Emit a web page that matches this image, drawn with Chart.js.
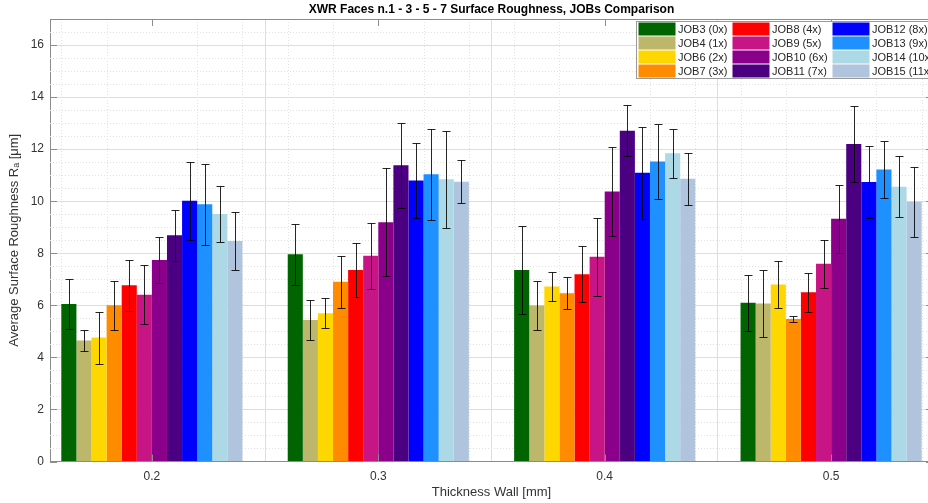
<!DOCTYPE html>
<html>
<head>
<meta charset="utf-8">
<title>XWR Faces Surface Roughness</title>
<script src="https://cdn.jsdelivr.net/npm/chart.js@4.4.0/dist/chart.umd.min.js"></script>
<style>
    html, body { margin: 0; padding: 0; background: #fff; overflow: hidden; }
    #wrap { width: 940px; height: 503px; }
</style>
</head>
<body>
<div id="wrap"><canvas id="roughChart" width="940" height="503"></canvas></div>
<script>
// Wall thickness groups [mm]
const thickness = [0.2, 0.3, 0.4, 0.5];
const yTicks = [0, 2, 4, 6, 8, 10, 12, 14, 16];

const jobLabels = [
    'JOB3 (0x)', 'JOB4 (1x)', 'JOB6 (2x)', 'JOB7 (3x)',
    'JOB8 (4x)', 'JOB9 (5x)', 'JOB10 (6x)', 'JOB11 (7x)',
    'JOB12 (8x)', 'JOB13 (9x)', 'JOB14 (10x)', 'JOB15 (11x)'
];
const jobColors = [
    '#006400', '#bdb76b', '#ffd700', '#ff8c00',
    '#ff0000', '#c71585', '#8b008b', '#4b0082',
    '#0000ff', '#1e90ff', '#add8e6', '#b0c4de'
];

// Mean Ra [um], one array per wall thickness, in job order
const ra02 = [6.05, 4.65, 4.76, 6.00, 6.77, 6.41, 7.74, 8.69, 10.02, 9.88, 9.51, 8.47];
const ra03 = [7.96, 5.44, 5.70, 6.91, 7.36, 7.90, 9.19, 11.38, 10.80, 11.04, 10.84, 10.75];
const ra04 = [7.36, 5.99, 6.72, 6.46, 7.19, 7.87, 10.37, 12.71, 11.09, 11.53, 11.84, 10.86];
const ra05 = [6.10, 6.07, 6.80, 5.47, 6.50, 7.60, 9.33, 12.20, 10.74, 11.22, 10.56, 9.98];

// Standard deviation (error bars)
const sd02 = [0.97, 0.41, 1.00, 0.94, 0.99, 1.12, 0.90, 0.98, 1.50, 1.56, 1.06, 1.11];
const sd03 = [1.17, 0.78, 0.58, 1.00, 1.04, 1.26, 2.07, 1.63, 1.44, 1.75, 1.86, 0.82];
const sd04 = [1.68, 0.94, 0.57, 0.62, 1.08, 1.50, 1.70, 0.98, 1.76, 1.45, 0.93, 1.01];
const sd05 = [1.07, 1.28, 0.91, 0.11, 0.76, 0.92, 1.31, 1.47, 1.39, 1.08, 1.17, 1.35];

const raGroups = [ra02, ra03, ra04, ra05];
const sdGroups = [sd02, sd03, sd04, sd05];

const fontFamily = '"Liberation Sans", Arial, Helvetica, sans-serif';
const axisColor = '#8c8c8c';
const textColor = '#333333';

const datasets = jobLabels.map((label, i) => ({
    label: label,
    data: thickness.map((t, g) => ({ x: t, y: raGroups[g][i] })),
    err: thickness.map((t, g) => sdGroups[g][i]),
    backgroundColor: jobColors[i],
    borderWidth: 0,
    categoryPercentage: 0.8,
    barPercentage: 1.0
}));

// MATLAB-like extras: minor grid, error bars, inward ticks, box, legend
const matlabAxes = {
    id: 'matlabAxes',
    beforeDatasetsDraw(chart) {
        const { ctx, chartArea: a, scales: { x, y } } = chart;
        ctx.save();
        ctx.strokeStyle = '#e2e2e2';
        ctx.lineWidth = 1;
        ctx.setLineDash([1, 2]);
        ctx.beginPath();
        for (let k = 1; k <= 33; k++) {
            if (k % 4 === 0) continue;
            const py = Math.round(y.getPixelForValue(k * 0.5)) + 0.5;
            ctx.moveTo(a.left, py);
            ctx.lineTo(a.right, py);
        }
        for (let k = 8; k <= 27; k++) {
            if (k % 5 === 0) continue;
            const px = Math.round(x.getPixelForValue(k * 0.02)) + 0.5;
            ctx.moveTo(px, a.top);
            ctx.lineTo(px, a.bottom);
        }
        ctx.stroke();
        ctx.restore();
    },
    afterDatasetsDraw(chart) {
        const { ctx, scales: { y } } = chart;
        ctx.save();
        ctx.strokeStyle = 'rgba(0, 0, 0, 0.85)';
        ctx.lineWidth = 1;
        chart.data.datasets.forEach((ds, i) => {
            const meta = chart.getDatasetMeta(i);
            meta.data.forEach((bar, j) => {
                const v = ds.data[j].y;
                const e = ds.err[j];
                const px = Math.round(bar.x) + 0.5;
                const top = Math.round(y.getPixelForValue(v + e)) + 0.5;
                const bot = Math.round(y.getPixelForValue(v - e)) + 0.5;
                ctx.beginPath();
                ctx.moveTo(px, top);
                ctx.lineTo(px, bot);
                ctx.moveTo(px - 4, top);
                ctx.lineTo(px + 4, top);
                ctx.moveTo(px - 4, bot);
                ctx.lineTo(px + 4, bot);
                ctx.stroke();
            });
        });
        ctx.restore();
    },
    afterDraw(chart) {
        const { ctx, chartArea: a, scales: { x, y } } = chart;
        ctx.save();
        ctx.strokeStyle = axisColor;
        ctx.lineWidth = 1;
        ctx.beginPath();
        // box top / right
        ctx.moveTo(a.left, Math.round(a.top) + 0.5);
        ctx.lineTo(a.right, Math.round(a.top) + 0.5);
        ctx.moveTo(Math.round(a.right) + 0.5, a.top);
        ctx.lineTo(Math.round(a.right) + 0.5, a.bottom);
        // inward ticks
        yTicks.forEach(v => {
            const py = Math.round(y.getPixelForValue(v)) + 0.5;
            ctx.moveTo(a.left, py);
            ctx.lineTo(a.left + 7, py);
            ctx.moveTo(a.right, py);
            ctx.lineTo(a.right - 7, py);
        });
        thickness.forEach(t => {
            const px = Math.round(x.getPixelForValue(t)) + 0.5;
            ctx.moveTo(px, a.bottom);
            ctx.lineTo(px, a.bottom - 7);
            ctx.moveTo(px, a.top);
            ctx.lineTo(px, a.top + 7);
        });
        ctx.stroke();

        // legend, column-major 3 x 4
        const lx = Math.round(a.right - 297) + 0.5;
        const ly = Math.round(a.top + 2) + 0.5;
        ctx.fillStyle = '#ffffff';
        ctx.fillRect(lx, ly, 300, 57);
        ctx.strokeStyle = '#999999';
        ctx.strokeRect(lx, ly, 300, 57);
        const colX = [lx + 2, lx + 96, lx + 196];
        ctx.font = '11px ' + fontFamily;
        ctx.textBaseline = 'middle';
        ctx.textAlign = 'left';
        jobLabels.forEach((label, i) => {
            const col = Math.floor(i / 4);
            const row = i % 4;
            const sx = colX[col];
            const sy = ly + 1 + row * 14;
            ctx.fillStyle = jobColors[i];
            ctx.fillRect(sx, sy, 37, 13);
            ctx.fillStyle = '#262626';
            ctx.fillText(label, sx + 39.5, sy + 7);
        });
        ctx.restore();
    }
};

new Chart(document.getElementById('roughChart'), {
    type: 'bar',
    data: { datasets: datasets },
    options: {
        responsive: false,
        animation: false,
        layout: { padding: { left: 0, right: 7, top: 0, bottom: 0 } },
        plugins: {
            legend: { display: false },
            tooltip: { enabled: false },
            title: {
                display: true,
                fullSize: false,
                text: 'XWR Faces n.1 - 3 - 5 - 7 Surface Roughness, JOBs Comparison',
                color: '#000000',
                font: { family: fontFamily, size: 12, weight: 'bold', lineHeight: 1 },
                padding: { top: 4, bottom: 3 }
            }
        },
        scales: {
            x: {
                type: 'linear',
                min: 0.155,
                max: 0.545,
                offset: false,
                afterBuildTicks: scale => { scale.ticks = thickness.map(v => ({ value: v })); },
                afterFit: scale => { scale.height = 41.5; },
                ticks: {
                    color: textColor,
                    font: { family: fontFamily, size: 12 },
                    padding: 8,
                    callback: v => v.toFixed(1)
                },
                grid: { color: '#dedede', drawTicks: false },
                border: { color: axisColor },
                title: {
                    display: true,
                    text: 'Thickness Wall [mm]',
                    color: textColor,
                    font: { family: fontFamily, size: 13 },
                    padding: { top: 0, bottom: 3 }
                }
            },
            y: {
                min: 0,
                max: 17,
                afterBuildTicks: scale => { scale.ticks = yTicks.map(v => ({ value: v })); },
                afterFit: scale => { scale.width = 50; },
                ticks: {
                    color: textColor,
                    font: { family: fontFamily, size: 12 },
                    padding: 6
                },
                grid: { color: '#dedede', drawTicks: false },
                border: { color: axisColor },
                title: {
                    display: true,
                    text: 'Average Surface Roughness R\u2090 [\u03bcm]',
                    color: textColor,
                    font: { family: fontFamily, size: 13 },
                    padding: { top: 7, bottom: 0 }
                }
            }
        }
    },
    plugins: [matlabAxes]
});
</script>
</body>
</html>
